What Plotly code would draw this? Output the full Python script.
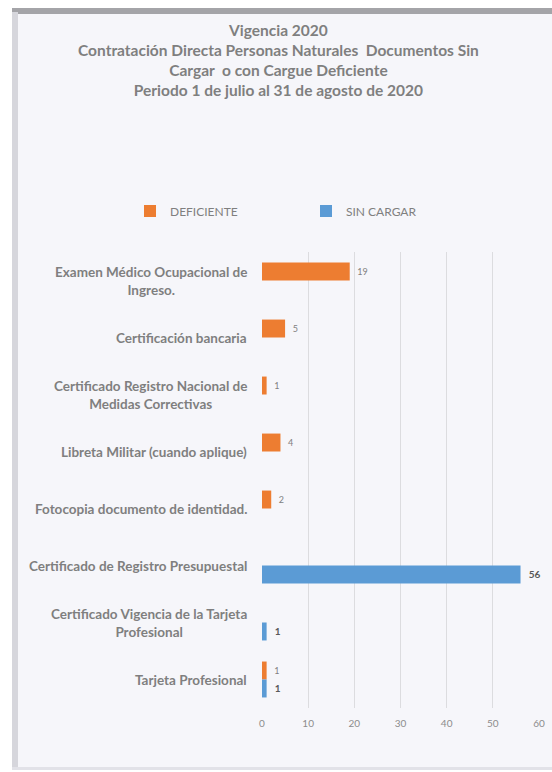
import plotly.graph_objects as go

categories = [
    "Examen Médico Ocupacional de<br>Ingreso.",
    "Certificación bancaria",
    "Certificado Registro Nacional de<br>Medidas Correctivas",
    "Libreta Militar (cuando aplique)",
    "Fotocopia documento de identidad.",
    "Certificado de Registro Presupuestal",
    "Certificado Vigencia de la Tarjeta<br>Profesional",
    "Tarjeta Profesional",
]
deficiente = [19, 5, 1, 4, 2, None, None, 1]
sin_cargar = [None, None, None, None, None, 56, 1, 1]
x_ticks = [0, 10, 20, 30, 40, 50, 60]
title_lines = [
    "Vigencia 2020",
    "Contratación Directa Personas Naturales  Documentos Sin",
    "Cargar  o con Cargue Deficiente",
    "Periodo 1 de julio al 31 de agosto de 2020",
]

W, H = 552, 772
L, R, T, B = 262, 13, 252, 64
PW, PH = W - L - R, H - T - B


def px(x):
    return (x - L) / PW


def py(y):
    return (H - B - y) / PH


FONT = "Lato"
GRAY = "#7f7f7f"
NB = "\u00a0\u00a0"

fig = go.Figure()
fig.add_trace(go.Bar(
    name="DEFICIENTE", y=categories, x=deficiente, orientation="h",
    marker=dict(color="#ED7D31", line=dict(width=0)),
    text=[(NB + "%d" % v) if v is not None else "" for v in deficiente],
    textposition="outside", cliponaxis=False,
    textfont=dict(family=FONT, size=9, color="#808080"),
))
fig.add_trace(go.Bar(
    name="SIN CARGAR", y=categories, x=sin_cargar, orientation="h",
    marker=dict(color="#5B9BD5", line=dict(width=0)),
    text=[(NB + "<b>%d</b>" % v) if v is not None else "" for v in sin_cargar],
    textposition="outside", cliponaxis=False,
    textfont=dict(family=FONT, size=10, color="#595959"),
))

shapes = [
    dict(type="rect", xref="paper", yref="paper", layer="below",
         x0=px(12), x1=px(570), y0=py(770), y1=py(8),
         fillcolor="#f6f6fa", line=dict(width=0)),
    dict(type="rect", xref="paper", yref="paper", layer="below",
         x0=px(12), x1=px(570), y0=py(14), y1=py(8),
         fillcolor="#a4a4a8", line=dict(width=0)),
    dict(type="rect", xref="paper", yref="paper", layer="below",
         x0=px(12), x1=px(18), y0=py(770), y1=py(12),
         fillcolor="#d6d6dc", line=dict(width=0)),
    dict(type="rect", xref="paper", yref="paper", layer="below",
         x0=px(12), x1=px(570), y0=py(770), y1=py(767),
         fillcolor="#e2e2e8", line=dict(width=0)),
]

annotations = [dict(
    xref="paper", yref="paper", x=px(278), y=py(19),
    text="<b>" + "<br>".join(title_lines) + "</b>",
    showarrow=False, xanchor="center", yanchor="top", align="center",
    font=dict(family=FONT, size=15.5, color=GRAY),
)]
for c in categories:
    annotations.append(dict(
        xref="paper", yref="y", x=px(249), y=c, text="<b>%s</b>" % c,
        showarrow=False, xanchor="right", yanchor="middle", align="center",
        font=dict(family=FONT, size=13.5, color=GRAY),
    ))

fig.update_layout(
    width=W, height=H, autosize=False,
    margin=dict(l=L, r=R, t=T, b=B, pad=0, autoexpand=False),
    paper_bgcolor="white", plot_bgcolor="rgba(0,0,0,0)",
    barmode="group", bargap=0.37, bargroupgap=0,
    legend=dict(
        orientation="h", x=px(130), xanchor="left", y=py(211), yanchor="middle",
        font=dict(family=FONT, size=12, color=GRAY),
        entrywidth=131, entrywidthmode="pixels", bgcolor="rgba(0,0,0,0)",
        traceorder="normal",
    ),
    xaxis=dict(
        range=[0, 60], tickvals=x_ticks, showgrid=True, gridcolor="#dcdcdf",
        gridwidth=1, zeroline=False, showline=False, ticks="", automargin=False,
        tickfont=dict(family=FONT, size=10, color="#8c8c8c"),
        ticklabelstandoff=8,
    ),
    yaxis=dict(
        categoryorder="array", categoryarray=categories, autorange="reversed",
        showticklabels=False, showgrid=False, zeroline=False, showline=False,
        ticks="", automargin=False,
    ),
    shapes=shapes,
    annotations=annotations,
    font=dict(family=FONT),
)

fig.write_html("out.html", config={"displayModeBar": False},
               post_script="document.body.style.margin='0px';")
